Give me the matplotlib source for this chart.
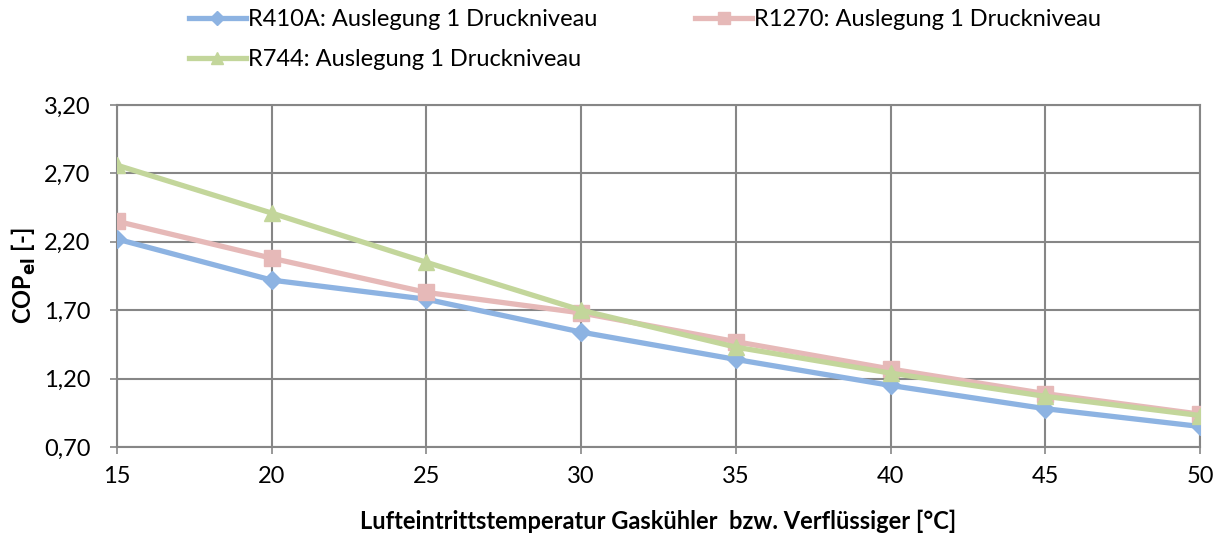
import matplotlib.pyplot as plt
from matplotlib.ticker import FuncFormatter

plt.rcParams['font.family'] = ['Lato', 'DejaVu Sans']

temps = [15, 20, 25, 30, 35, 40, 45, 50]
cop_r410a = [2.22, 1.92, 1.78, 1.54, 1.34, 1.15, 0.98, 0.85]
cop_r1270 = [2.35, 2.08, 1.83, 1.68, 1.47, 1.27, 1.09, 0.94]
cop_r744 = [2.76, 2.41, 2.05, 1.70, 1.43, 1.24, 1.07, 0.93]

labels = ['R410A: Auslegung 1 Druckniveau',
          'R1270: Auslegung 1 Druckniveau',
          'R744: Auslegung 1 Druckniveau']
y_ticks = [0.70, 1.20, 1.70, 2.20, 2.70, 3.20]

fig = plt.figure(figsize=(12.15, 5.35), dpi=100)
ax = fig.add_axes([0.0963, 0.1645, 0.8914, 0.6392])

grid_col = '#868686'
h1, = ax.plot(temps, cop_r410a, color='#8DB3E2', lw=3.8, marker='D', ms=9, label=labels[0], zorder=3)
h2, = ax.plot(temps, cop_r1270, color='#E6B9B8', lw=3.8, marker='s', ms=11, label=labels[1], zorder=4)
h3, = ax.plot(temps, cop_r744, color='#C3D69B', lw=3.8, marker='^', ms=11, label=labels[2], zorder=5)

ax.set_xlim(15, 50)
ax.set_ylim(0.70, 3.20)
ax.set_xticks(temps)
ax.set_yticks(y_ticks)
ax.yaxis.set_major_formatter(FuncFormatter(lambda v, p: f'{v:.2f}'.replace('.', ',')))
ax.grid(True, color=grid_col, lw=1.5)
ax.set_axisbelow(True)
for s in ax.spines.values():
    s.set_color(grid_col)
    s.set_linewidth(1.5)
ax.tick_params(colors=grid_col, labelcolor='black', labelsize=17, length=5, width=1.2)
ax.tick_params(axis='x', pad=9)
ax.tick_params(axis='y', pad=14)

ax.set_xlabel('Lufteintrittstemperatur Gaskühler  bzw. Verflüssiger [°C]',
              fontsize=17, fontweight='bold', labelpad=16)
ax.set_ylabel('COP$_{\\mathbf{el}}$ [-]', fontsize=17, fontweight='bold', labelpad=4)

fig.legend([h1, h3, h2], [labels[0], labels[2], labels[1]], ncol=2, loc='upper left',
           bbox_to_anchor=(0.138, 1.022), frameon=False, fontsize=17,
           handlelength=2.4, handletextpad=0.1, columnspacing=4.15, labelspacing=0.8,
           markerscale=0.8)

fig.savefig('out.png', dpi=100)
